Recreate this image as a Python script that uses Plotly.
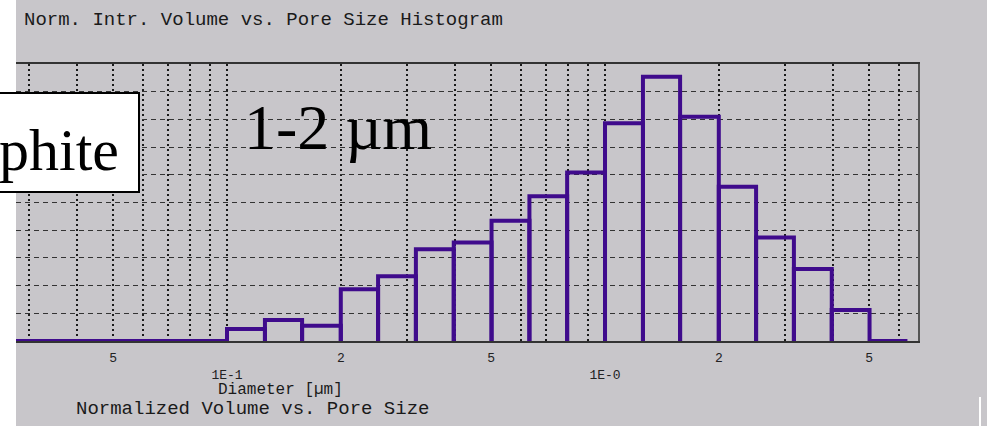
import numpy as np
import plotly.graph_objects as go

# bin edges (um), log-spaced 10 per decade; the first bin is an empty lead-in
bin_edges = [0.02, 0.1, 0.126, 0.158, 0.2, 0.251, 0.316, 0.398, 0.501, 0.631,
             0.794, 1.0, 1.26, 1.58, 2.0, 2.51, 3.16, 3.98, 5.01, 6.31]
# normalized intrusion volume per bin
norm_volume = [0.0, 0.043, 0.076, 0.055, 0.187, 0.234, 0.331, 0.356, 0.434, 0.523,
               0.608, 0.786, 0.954, 0.810, 0.557, 0.374, 0.260, 0.112, 0.0]

grid_x = [0.03, 0.04, 0.05, 0.06, 0.07, 0.08, 0.09,
          0.1, 0.2, 0.3, 0.4, 0.5, 0.6, 0.7, 0.8, 0.9,
          1, 2, 3, 4, 5, 6]
tick_labels = {0.05: "5", 0.1: "<br>1E-1", 0.2: "2", 0.5: "5",
               1: "<br>1E-0", 2: "2", 5: "5"}
decade_ticks = [0.1, 1]

BG = "#c8c6ca"
PURPLE = "#3f0b8c"
MONO = "Liberation Mono, Courier New, monospace"
SERIF = "Liberation Serif, Times New Roman, serif"

# plot area in pixels
L, R, T, B = 16, 918, 64, 341


def px(p):
    return (p - L) / (R - L)


def py(q):
    return (B - q) / (B - T)


# outline every bar as its own closed box
xs, ys = [], []
for i, v in enumerate(norm_volume):
    lo, hi = bin_edges[i], bin_edges[i + 1]
    xs += [lo, lo, hi, hi, None]
    ys += [0, v, v, 0, None]

fig = go.Figure()
fig.add_trace(go.Scatter(
    x=xs, y=ys, mode="lines",
    line=dict(color=PURPLE, width=4),
    hoverinfo="skip", showlegend=False
))

fig.update_xaxes(
    type="log",
    range=[-1.5582, 0.8280],
    tickvals=grid_x,
    ticktext=[tick_labels.get(v, "") for v in grid_x],
    showgrid=True, gridcolor="#1a1a1a", gridwidth=1.5, griddash="2px,3px",
    showline=True, linecolor="#333333", linewidth=2, mirror=True,
    ticks="", zeroline=False, ticklabelstandoff=3,
    tickfont=dict(family=MONO, size=13, color="#222222"),
)
fig.update_yaxes(
    range=[0, 1], dtick=0.1,
    showgrid=True, gridcolor="#333333", gridwidth=1, griddash="5px,4px",
    showline=True, linecolor="#555555", linewidth=2, side="right",
    showticklabels=False, ticks="", zeroline=False,
)

# dotted tick extensions below the axis at each decade
for d in decade_ticks:
    fig.add_shape(type="line", xref="x", yref="paper",
                  x0=np.log10(d), x1=np.log10(d), y0=0, y1=py(364),
                  line=dict(color="#1a1a1a", width=1.5, dash="2px,3px"))

# white margins of the cropped screenshot
fig.add_shape(type="rect", xref="paper", yref="paper", layer="above",
              x0=-0.05, x1=0, y0=py(430), y1=py(-5),
              fillcolor="white", line_width=0)
fig.add_shape(type="rect", xref="paper", yref="paper", layer="above",
              x0=px(987), x1=px(1000), y0=py(430), y1=py(-5),
              fillcolor="white", line_width=0)
fig.add_shape(type="line", xref="paper", yref="paper", layer="above",
              x0=px(980), x1=px(980), y0=py(397), y1=py(430),
              line=dict(color="white", width=2))

# label box cut at the left edge
fig.add_shape(type="rect", xref="paper", yref="paper", layer="above",
              x0=px(-4), x1=px(139), y0=py(192), y1=py(93),
              fillcolor="white", line=dict(color="black", width=2))
fig.add_annotation(x=px(121), y=py(150), xref="paper", yref="paper",
                   text="phite", showarrow=False, xanchor="right", yanchor="middle",
                   font=dict(family=SERIF, size=60, color="black"))
fig.add_annotation(x=px(338), y=py(128), xref="paper", yref="paper",
                   text="1-2 µm", showarrow=False, xanchor="center", yanchor="middle",
                   font=dict(family=SERIF, size=64, color="black"))

# header and axis captions
fig.add_annotation(x=px(22), y=py(20), xref="paper", yref="paper",
                   text="Norm. Intr. Volume vs. Pore Size Histogram",
                   showarrow=False, xanchor="left", yanchor="middle",
                   font=dict(family=MONO, size=19, color="#1a1a1a"))
fig.add_annotation(x=px(280), y=py(390), xref="paper", yref="paper",
                   text="Diameter [µm]", showarrow=False,
                   xanchor="center", yanchor="middle",
                   font=dict(family=MONO, size=16, color="#1a1a1a"))
fig.add_annotation(x=px(74), y=py(409), xref="paper", yref="paper",
                   text="Normalized Volume vs. Pore Size", showarrow=False,
                   xanchor="left", yanchor="middle",
                   font=dict(family=MONO, size=19, color="#1a1a1a"))

fig.update_layout(
    width=994, height=426, autosize=False,
    margin=dict(l=L, r=994 - R, t=T, b=426 - B),
    paper_bgcolor=BG, plot_bgcolor=BG,
    showlegend=False,
)

# drop the browser's default page margin so the figure sits at (0, 0)
fig.write_html("out.html", config={"displayModeBar": False},
               post_script="document.body.style.margin='0';")
